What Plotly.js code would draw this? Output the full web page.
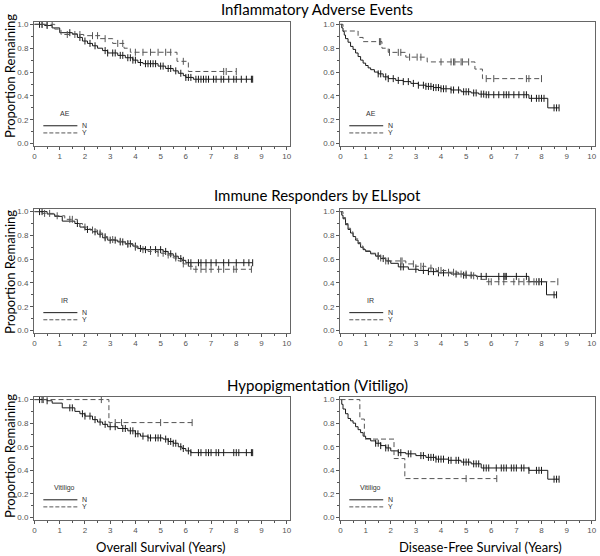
<!DOCTYPE html>
<html>
<head>
<meta charset="utf-8">
<script src="https://cdn.plot.ly/plotly-3.0.1.min.js"></script>
<style>html,body{margin:0;padding:0;background:#fff}#chart{width:600px;height:556px}</style>
</head>
<body>
<div id="chart"></div>
<script>
// ---------- Data ----------
const rowTitles = ["Inflammatory Adverse Events", "Immune Responders by ELIspot", "Hypopigmentation (Vitiligo)"];
const groupLabels = ["AE", "IR", "Vitiligo"];
const xTitles = ["Overall Survival (Years)", "Disease-Free Survival (Years)"];
const yTitle = "Proportion Remaining";
const seriesNames = ["N", "Y"];

// Panel 1: OS by AE
const p1N_t = [0, 0.4, 0.7, 1.0, 1.5, 1.7, 1.9, 2.1, 2.3, 2.5, 2.7, 2.9, 3.3, 3.6, 3.9, 4.1, 4.3, 4.9, 5.2, 5.5, 5.7, 5.9, 6.0, 6.3];
const p1N_s = [1.0, 0.99, 0.97, 0.93, 0.92, 0.89, 0.86, 0.84, 0.82, 0.80, 0.78, 0.76, 0.74, 0.72, 0.70, 0.68, 0.67, 0.65, 0.63, 0.61, 0.59, 0.57, 0.555, 0.54];
const p1N_end = 8.65;
const p1N_c = [0.2, 0.3, 0.5, 1.4, 1.8, 2.0, 2.2, 2.4, 2.8, 2.9, 3.1, 3.2, 3.4, 3.5, 3.7, 3.8, 3.9, 4.0, 4.2, 4.4, 4.5, 4.6, 4.7, 4.8, 5.0, 5.1, 5.3, 5.4, 5.6, 5.8, 6.0, 6.1, 6.2, 6.4, 6.5, 6.6, 6.7, 6.8, 6.9, 7.1, 7.2, 7.4, 7.5, 7.7, 7.9, 8.0, 8.2, 8.4, 8.6, 8.65];
const p1Y_t = [0, 0.8, 1.05, 1.95, 2.6, 3.1, 3.55, 3.8, 5.65, 6.1];
const p1Y_s = [1.0, 0.96, 0.915, 0.905, 0.88, 0.84, 0.80, 0.766, 0.69, 0.605];
const p1Y_end = 8.0;
const p1Y_c = [0.3, 0.5, 0.7, 1.3, 1.6, 1.8, 2.3, 2.5, 2.8, 3.3, 3.5, 4.0, 4.3, 4.6, 4.9, 5.2, 5.4, 5.9, 7.5, 7.6, 8.0];

// Panel 2: DFS by AE
const p2N_t = [0, 0.05, 0.1, 0.15, 0.2, 0.3, 0.4, 0.5, 0.6, 0.7, 0.8, 0.9, 1.0, 1.1, 1.2, 1.35, 1.5, 1.7, 1.9, 2.2, 2.5, 2.8, 3.1, 3.4, 3.7, 4.0, 4.4, 4.8, 5.2, 5.5, 5.8, 7.5, 8.25];
const p2N_s = [1.0, 0.97, 0.94, 0.91, 0.88, 0.85, 0.815, 0.79, 0.76, 0.73, 0.70, 0.675, 0.655, 0.635, 0.62, 0.60, 0.585, 0.56, 0.545, 0.53, 0.52, 0.505, 0.49, 0.48, 0.47, 0.46, 0.45, 0.435, 0.425, 0.415, 0.41, 0.38, 0.30];
const p2N_end = 8.7;
const p2N_c = [1.5, 1.6, 1.8, 1.9, 2.1, 2.3, 2.5, 2.7, 2.9, 3.1, 3.3, 3.4, 3.5, 3.6, 3.7, 3.8, 3.9, 4.0, 4.1, 4.2, 4.4, 4.5, 4.7, 4.9, 5.0, 5.1, 5.3, 5.4, 5.6, 5.7, 5.8, 5.9, 6.1, 6.3, 6.5, 6.6, 6.7, 6.9, 7.1, 7.3, 7.4, 7.6, 7.8, 7.9, 8.0, 8.1, 8.5, 8.6, 8.7];
const p2Y_t = [0, 0.1, 0.7, 0.9, 1.65, 1.9, 2.6, 3.45, 5.35, 5.65];
const p2Y_s = [1.0, 0.944, 0.89, 0.855, 0.80, 0.765, 0.725, 0.685, 0.625, 0.545];
const p2Y_end = 8.0;
const p2Y_c = [1.55, 1.6, 1.95, 2.3, 2.4, 2.75, 3.05, 3.2, 4.0, 4.4, 4.5, 4.55, 4.8, 4.85, 5.1, 5.8, 6.1, 7.4, 7.5, 8.0];

// Panel 3: OS by IR
const p3N_t = [0, 0.5, 0.8, 1.1, 1.6, 1.8, 2.0, 2.3, 2.5, 2.7, 2.9, 3.3, 3.6, 3.9, 4.1, 4.4, 5.1, 5.3, 5.5, 5.7, 5.85, 6.0];
const p3N_s = [1.0, 0.98, 0.96, 0.92, 0.90, 0.87, 0.85, 0.83, 0.81, 0.78, 0.76, 0.745, 0.73, 0.71, 0.69, 0.68, 0.665, 0.645, 0.625, 0.605, 0.59, 0.57];
const p3N_end = 8.65;
const p3N_c = [0.2, 0.3, 1.7, 2.1, 2.4, 2.6, 2.8, 3.0, 3.2, 3.4, 3.5, 3.7, 3.8, 4.0, 4.2, 4.4, 4.6, 4.8, 5.0, 5.2, 5.4, 5.6, 5.8, 5.9, 6.1, 6.2, 6.5, 6.6, 6.8, 7.0, 7.2, 7.5, 7.7, 8.0, 8.3, 8.5, 8.65];
const p3Y_t = [0, 0.3, 0.8, 1.2, 1.7, 1.9, 2.2, 2.5, 2.7, 2.9, 3.2, 3.6, 3.9, 4.1, 4.5, 4.9, 5.2, 5.5, 5.7, 5.9, 6.1, 6.3];
const p3Y_s = [1.0, 0.985, 0.965, 0.935, 0.90, 0.87, 0.845, 0.82, 0.79, 0.765, 0.75, 0.725, 0.70, 0.68, 0.665, 0.65, 0.635, 0.61, 0.585, 0.56, 0.54, 0.515];
const p3Y_end = 8.6;
const p3Y_c = [0.4, 0.6, 0.9, 1.4, 1.5, 2.0, 2.3, 2.6, 2.8, 3.1, 3.4, 3.7, 4.0, 4.3, 4.6, 4.9, 5.1, 5.3, 5.6, 5.9, 6.2, 6.4, 6.6, 6.8, 7.0, 7.3, 7.5, 7.9, 8.0, 8.6];

// Panel 4: DFS by IR
const p4N_t = [0, 0.05, 0.1, 0.2, 0.3, 0.4, 0.5, 0.6, 0.7, 0.8, 0.9, 1.0, 1.2, 1.4, 1.6, 1.8, 2.0, 2.3, 2.7, 3.1, 3.5, 3.9, 4.4, 4.9, 5.4, 7.5, 8.2];
const p4N_s = [1.0, 0.97, 0.94, 0.89, 0.85, 0.82, 0.79, 0.76, 0.73, 0.70, 0.68, 0.665, 0.645, 0.625, 0.605, 0.585, 0.565, 0.535, 0.515, 0.505, 0.495, 0.485, 0.475, 0.465, 0.455, 0.41, 0.30];
const p4N_end = 8.6;
const p4N_c = [1.5, 1.7, 1.9, 2.4, 2.5, 3.0, 3.3, 3.5, 3.7, 3.9, 4.1, 4.3, 4.6, 4.9, 5.0, 5.2, 5.6, 5.8, 6.3, 6.5, 6.55, 6.6, 7.0, 7.4, 7.9, 8.0, 8.5, 8.6];
const p4Y_t = [0, 0.1, 0.2, 0.3, 0.4, 0.5, 0.6, 0.7, 0.8, 0.9, 1.0, 1.2, 1.4, 1.6, 1.8, 2.6, 3.0, 3.4, 3.8, 4.2, 4.7, 5.1, 5.45, 5.8];
const p4Y_s = [1.0, 0.95, 0.90, 0.86, 0.83, 0.80, 0.77, 0.74, 0.71, 0.69, 0.67, 0.65, 0.63, 0.61, 0.585, 0.56, 0.54, 0.525, 0.505, 0.49, 0.475, 0.46, 0.43, 0.41];
const p4Y_end = 8.65;
const p4Y_c = [1.5, 1.6, 1.8, 2.4, 2.45, 2.9, 3.2, 3.3, 3.6, 3.9, 4.0, 4.3, 4.5, 4.8, 5.0, 5.3, 5.9, 6.0, 6.3, 6.5, 6.9, 7.1, 7.3, 7.5, 7.7, 7.8, 7.9, 8.65];

// Panel 5: OS by Vitiligo
const p5N_t = [0, 0.5, 0.7, 1.1, 1.6, 1.8, 2.0, 2.3, 2.5, 2.7, 2.9, 3.3, 3.7, 4.0, 4.2, 4.5, 5.1, 5.3, 5.5, 5.7, 5.85, 6.0, 6.2];
const p5N_s = [1.0, 0.99, 0.97, 0.93, 0.90, 0.88, 0.86, 0.83, 0.81, 0.79, 0.77, 0.755, 0.735, 0.71, 0.69, 0.675, 0.665, 0.645, 0.63, 0.60, 0.585, 0.565, 0.55];
const p5N_end = 8.65;
const p5N_c = [0.2, 0.3, 0.5, 1.4, 1.5, 1.9, 2.0, 2.2, 2.4, 2.6, 2.8, 3.0, 3.2, 3.5, 3.6, 3.8, 3.9, 4.0, 4.1, 4.3, 4.5, 4.6, 4.8, 4.9, 5.0, 5.2, 5.3, 5.4, 5.5, 5.6, 5.8, 5.9, 6.1, 6.2, 6.5, 6.6, 6.8, 6.9, 7.0, 7.2, 7.3, 7.5, 7.9, 8.0, 8.1, 8.4, 8.6, 8.65];
const p5Y_t = [0, 2.95];
const p5Y_s = [1.0, 0.805];
const p5Y_end = 6.25;
const p5Y_c = [0.35, 2.65, 3.2, 3.45, 5.0, 6.25];

// Panel 6: DFS by Vitiligo
const p6N_t = [0, 0.05, 0.1, 0.2, 0.3, 0.4, 0.5, 0.6, 0.7, 0.8, 0.9, 1.0, 1.2, 1.4, 1.6, 1.8, 2.0, 2.3, 2.6, 3.0, 3.4, 3.8, 4.3, 4.8, 5.2, 5.6, 7.5, 8.25];
const p6N_s = [1.0, 0.96, 0.92, 0.88, 0.84, 0.82, 0.80, 0.77, 0.745, 0.72, 0.69, 0.67, 0.65, 0.63, 0.61, 0.59, 0.565, 0.55, 0.54, 0.525, 0.51, 0.495, 0.485, 0.47, 0.455, 0.42, 0.40, 0.325];
const p6N_end = 8.7;
const p6N_c = [1.4, 1.5, 1.6, 1.8, 1.9, 2.3, 2.4, 2.7, 2.8, 3.2, 3.3, 3.5, 3.6, 3.7, 3.8, 3.9, 4.0, 4.1, 4.3, 4.4, 4.6, 4.7, 4.9, 5.0, 5.1, 5.3, 5.4, 5.5, 5.7, 5.8, 5.9, 6.2, 6.4, 6.5, 6.6, 6.8, 6.9, 7.0, 7.2, 7.3, 7.5, 7.8, 7.9, 8.0, 8.5, 8.6, 8.7];
const p6Y_t = [0, 0.77, 0.95, 2.13, 2.56];
const p6Y_s = [1.0, 0.835, 0.665, 0.50, 0.33];
const p6Y_end = 6.22;
const p6Y_c = [5.0, 6.22];

// ---------- Build ----------
const panels = [
  {N:[p1N_t,p1N_s,p1N_end,p1N_c], Y:[p1Y_t,p1Y_s,p1Y_end,p1Y_c], g:0},
  {N:[p2N_t,p2N_s,p2N_end,p2N_c], Y:[p2Y_t,p2Y_s,p2Y_end,p2Y_c], g:0},
  {N:[p3N_t,p3N_s,p3N_end,p3N_c], Y:[p3Y_t,p3Y_s,p3Y_end,p3Y_c], g:1},
  {N:[p4N_t,p4N_s,p4N_end,p4N_c], Y:[p4Y_t,p4Y_s,p4Y_end,p4Y_c], g:1},
  {N:[p5N_t,p5N_s,p5N_end,p5N_c], Y:[p5Y_t,p5Y_s,p5Y_end,p5Y_c], g:2},
  {N:[p6N_t,p6N_s,p6N_end,p6N_c], Y:[p6Y_t,p6Y_s,p6Y_end,p6Y_c], g:2}
];

const W = 600, H = 556;
const colDom = [[34/W, 290/W], [340/W, 595/W]];
const rowPx = [[21.7, 145.7], [209, 332.5], [397, 519.5]];
const rowDom = rowPx.map(r => [1 - r[1]/H, 1 - r[0]/H]);

function stepAt(t, s, x) {
  let v = s[0];
  for (let i = 0; i < t.length; i++) { if (t[i] <= x) v = s[i]; }
  return v;
}

const styles = {
  N: {color: '#1a1a1a', dash: 'solid', width: 1},
  Y: {color: '#555', dash: '5px,3px', width: 1}
};

const traces = [];
const layout = {
  width: W, height: H,
  margin: {l: 0, r: 0, t: 0, b: 0},
  paper_bgcolor: '#fff', plot_bgcolor: '#fff',
  showlegend: false,
  annotations: [], shapes: []
};

const tickFont = {family: 'Liberation Sans, Arial, sans-serif', size: 8, color: '#555'};
const legFont = {family: 'Liberation Sans, Arial, sans-serif', size: 7, color: '#333'};

panels.forEach((p, i) => {
  const k = i + 1;
  const xa = 'x' + (k === 1 ? '' : k), ya = 'y' + (k === 1 ? '' : k);
  const col = i % 2, row = Math.floor(i / 2);
  ['N', 'Y'].forEach(name => {
    const [t, s, end, c] = p[name];
    const st = styles[name];
    traces.push({
      x: t.concat([end]), y: s.concat([s[s.length - 1]]),
      xaxis: xa, yaxis: ya, mode: 'lines', type: 'scatter',
      line: {shape: 'hv', color: st.color, width: st.width, dash: st.dash},
      hoverinfo: 'skip'
    });
    traces.push({
      x: c, y: c.map(v => stepAt(t, s, v)),
      xaxis: xa, yaxis: ya, mode: 'markers', type: 'scatter',
      marker: {symbol: 'line-ns-open', size: 5, color: st.color, line: {width: 1, color: st.color}},
      hoverinfo: 'skip'
    });
  });
  layout['xaxis' + (k === 1 ? '' : k)] = {
    domain: colDom[col], anchor: ya, range: [-0.02, 10.13],
    tickmode: 'linear', tick0: 0, dtick: 1,
    ticks: 'outside', ticklen: 3, tickcolor: '#555', tickwidth: 1,
    minor: {ticks: 'outside', dtick: 0.5, tick0: 0, ticklen: 2, tickcolor: '#555'},
    showline: true, mirror: true, linecolor: '#666', linewidth: 1,
    showgrid: false, zeroline: false, tickfont: tickFont, fixedrange: true
  };
  layout['yaxis' + (k === 1 ? '' : k)] = {
    domain: rowDom[row], anchor: xa, range: [-0.017, 1.022],
    tickmode: 'linear', tick0: 0, dtick: 0.2, tickformat: '.1f',
    ticks: 'outside', ticklen: 3, tickcolor: '#555', tickwidth: 1,
    minor: {ticks: 'outside', dtick: 0.1, tick0: 0, ticklen: 2, tickcolor: '#555'},
    showline: true, mirror: true, linecolor: '#666', linewidth: 1,
    showgrid: false, zeroline: false, tickfont: tickFont, fixedrange: true
  };
  // in-panel legend
  layout.annotations.push({xref: xa, yref: ya, x: 1.2, y: 0.25, text: groupLabels[p.g], showarrow: false,
    font: legFont, xanchor: 'center', yanchor: 'middle'});
  [['N', 0.15], ['Y', 0.09]].forEach(([name, yy]) => {
    const st = styles[name];
    layout.shapes.push({type: 'line', xref: xa, yref: ya, x0: 0.35, x1: 1.7, y0: yy, y1: yy,
      line: {color: st.color, width: 1, dash: name === 'Y' ? '4px,2px' : 'solid'}});
    layout.annotations.push({xref: xa, yref: ya, x: 1.8, y: yy, text: name, showarrow: false,
      font: legFont, xanchor: 'left', yanchor: 'middle'});
  });
});

// Row titles
const titleY = [9, 195, 385];
rowTitles.forEach((tt, r) => {
  layout.annotations.push({xref: 'paper', yref: 'paper', x: 317/W, y: 1 - titleY[r]/H, text: tt, showarrow: false,
    font: {family: 'Lato, Open Sans, sans-serif', size: 15, color: '#000'}, xanchor: 'center', yanchor: 'middle'});
});
// Y titles
const yTitleY = [76, 272, 456];
yTitleY.forEach(yy => {
  layout.annotations.push({xref: 'paper', yref: 'paper', x: 10/W, y: 1 - yy/H, text: yTitle, textangle: -90, showarrow: false,
    font: {family: 'Lato, Open Sans, sans-serif', size: 13, color: '#000'}, xanchor: 'center', yanchor: 'middle'});
});
// X titles
const xTitleX = [161, 480];
xTitles.forEach((tt, c) => {
  layout.annotations.push({xref: 'paper', yref: 'paper', x: xTitleX[c]/W, y: 1 - 547/H, text: tt, showarrow: false,
    font: {family: 'Lato, Open Sans, sans-serif', size: 13, color: '#000'}, xanchor: 'center', yanchor: 'middle'});
});

Plotly.newPlot('chart', traces, layout, {displayModeBar: false, staticPlot: true});
</script>
</body>
</html>
